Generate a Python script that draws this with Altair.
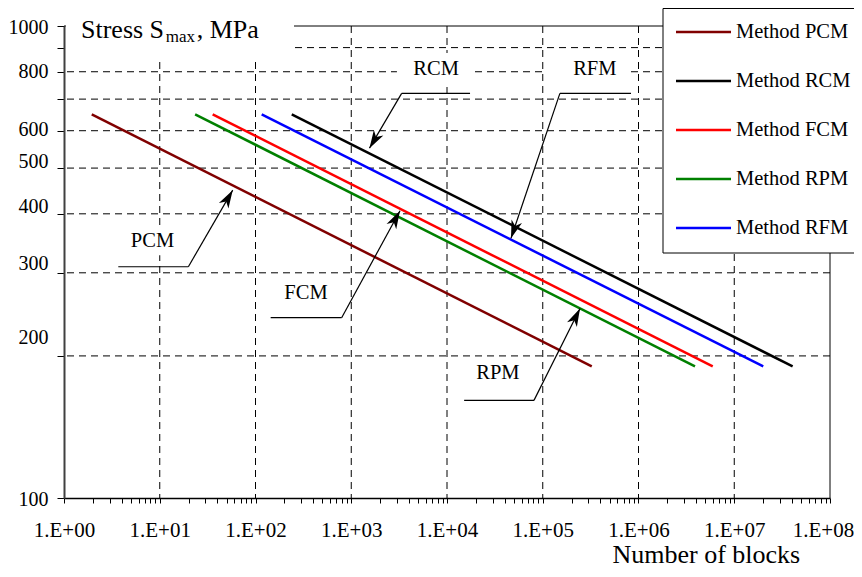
import altair as alt
import pandas as pd

FONT = "Liberation Serif"

# ---- series data ----
methods = ["Method PCM", "Method RCM", "Method FCM", "Method RPM", "Method RFM"]
colors = ["#800000", "#000000", "#FF0000", "#008000", "#0000FF"]
n_start = [1.95, 239, 35.7, 23.4, 116]
n_end = [3.25e5, 4.07e7, 5.96e6, 3.89e6, 2.01e7]
s_start = [650, 650, 650, 650, 650]
s_end = [190, 190, 190, 190, 190]

# ---- axis ticks / labels ----
y_ticks = [100, 200, 300, 400, 500, 600, 700, 800, 900, 1000]
y_labels = [100, 200, 300, 400, 500, 600, 800, 1000]
y_label_shift = [1, -18, -9, -7.3, -6.7, -1.7, 0, 1]
x_decades = [1, 10, 100, 1e3, 1e4, 1e5, 1e6, 1e7, 1e8]
x_ticks = [m * d for d in x_decades[:-1] for m in range(1, 10)] + [1e8]
grid_x = [10, 100, 1e3, 1e4, 1e5, 1e6, 1e7]
grid_y = [200, 300, 400, 500, 600, 700, 800, 900]

# ---- callout annotations ----
ann_labels = ["RCM", "RFM", "PCM", "FCM", "RPM"]
ann_text_n = [7.7e3, 3.5e5, 8.4, 337, 3.4e4]
ann_text_s = [810, 810, 351, 272, 184]
ann_elbow_n = [3.36e3, 1.51e5, 19.9, 794, 8.1e4]
ann_shelf_n = [1.74e4, 8.35e5, 3.69, 144, 1.51e4]
ann_shelf_s = [720, 720, 309, 241, 161]
ann_tip_n = [1.55e3, 4.66e4, 57.8, 3.23e3, 2.45e5]
ann_tip_s = [551, 355, 449, 406, 252]
ann_angle = [210.5, 198.7, 30.1, 28.6, 26.6]
# white boxes behind some labels
box_x1 = [3.0e3, 1.055e5, 4.66]
box_x2 = [1.82e4, 8.15e5, 15.5]
box_y1 = [743, 743, 327]
box_y2 = [877, 877, 373]

title_parts = ["Stress S", "max", ", MPa"]
x_title = "Number of blocks"

# ---- tables ----
lines_df = pd.DataFrame({"method": methods * 2, "N": n_start + n_end, "S": s_start + s_end})
legend_df = pd.DataFrame({"method": methods})
ann_df = pd.DataFrame({
    "label": ann_labels, "tn": ann_text_n, "ts": ann_text_s,
    "en": ann_elbow_n, "hn": ann_shelf_n, "hs": ann_shelf_s,
    "pn": ann_tip_n, "ps": ann_tip_s, "angle": ann_angle,
})
box_df = pd.DataFrame({"x1": box_x1, "x2": box_x2, "y1": box_y1, "y2": box_y2})
gx_df = pd.DataFrame({"g": grid_x})
gy_df = pd.DataFrame({"g": grid_y})
frame_top = pd.DataFrame({"v": [1000]})
frame_right = pd.DataFrame({"v": [1e8]})
one = pd.DataFrame({"a": [0]})

x_scale = alt.Scale(type="log", domain=[1, 1e8], nice=False)
y_scale = alt.Scale(type="log", domain=[100, 1000], nice=False)
color_scale = alt.Scale(domain=methods, range=colors)

x_label_expr = (
    "abs(log(datum.value)/LN10 - round(log(datum.value)/LN10)) < 0.001 ? "
    "'1.E+0' + round(log(datum.value)/LN10) : ''"
)
y_label_expr = (
    "indexof([" + ",".join(str(v) for v in y_labels) + "], datum.value) >= 0 ? "
    "format(datum.value, 'd') : ''"
)
y_offset_cond = {
    "condition": [
        {"test": f"datum.value == {v}", "value": off}
        for v, off in zip(y_labels, y_label_shift)
    ],
    "value": 0,
}
x_offset_cond = {
    "condition": {"test": "datum.value >= 99999999", "value": -7},
    "value": 0,
}

x_axis = alt.Axis(
    values=x_ticks, labelExpr=x_label_expr, grid=False,
    tickSize=5, tickColor="black", tickWidth=1,
    domainColor="black", domainWidth=1.5,
    labelFont=FONT, labelFontSize=21, labelColor="black",
    labelPadding=33, labelBaseline="alphabetic", labelAlign="center",
    labelOverlap=False, labelFlush=False, labelBound=False,
    labelOffset=x_offset_cond,
    title=x_title, titleFont=FONT, titleFontSize=26, titleFontWeight="normal",
    titleColor="black", titleX=548, titleY=64, titleAlign="left",
    titleBaseline="alphabetic", titleAnchor="start",
)
y_axis = alt.Axis(
    values=y_ticks, labelExpr=y_label_expr, grid=False,
    tickSize=7, tickColor="black", tickWidth=1,
    domainColor="#404040", domainWidth=2,
    labelFont=FONT, labelFontSize=20, labelColor="black",
    labelPadding=9, labelBaseline="middle", labelOverlap=False,
    labelFlush=False, labelBound=False, labelOffset=y_offset_cond,
    title=None,
)


def X(field, axis=True):
    return alt.X(field, type="quantitative", scale=x_scale, axis=x_axis if axis else None)


def Y(field, axis=False):
    return alt.Y(field, type="quantitative", scale=y_scale, axis=y_axis if axis else None)


grid_v = alt.Chart(gx_df).mark_rule(color="black", strokeWidth=1, strokeDash=[7, 5]).encode(x=X("g"))
grid_h = alt.Chart(gy_df).mark_rule(color="black", strokeWidth=1, strokeDash=[7, 5]).encode(y=Y("g"))
top_line = alt.Chart(frame_top).mark_rule(color="black", strokeWidth=1).encode(y=Y("v"))
right_line = alt.Chart(frame_right).mark_rule(color="black", strokeWidth=1).encode(x=X("v"))

boxes = alt.Chart(box_df).mark_rect(fill="white", stroke=None).encode(
    x=X("x1"), x2="x2", y=Y("y1"), y2="y2"
)
ann_text = alt.Chart(ann_df).mark_text(
    font=FONT, fontSize=20.5, color="black", align="center", baseline="middle"
).encode(x=X("tn"), y=Y("ts"), text="label:N")

data_lines = alt.Chart(lines_df).mark_line(strokeWidth=2.5).encode(
    x=X("N"), y=Y("S", axis=True),
    color=alt.Color("method:N", scale=color_scale, legend=None),
)

shelf = alt.Chart(ann_df).mark_rule(color="black", strokeWidth=1.2).encode(
    x=X("en"), x2="hn", y=Y("hs"), y2="hs"
)
diag = alt.Chart(ann_df).mark_rule(color="black", strokeWidth=1.2).encode(
    x=X("en"), x2="pn", y=Y("hs"), y2="ps"
)
arrow_path = "M0,0 L5.5,18 L0,13 L-5.5,18 Z"
heads = alt.Chart(ann_df).mark_point(
    shape=arrow_path, filled=True, color="black", opacity=1, size=4, strokeWidth=0
).encode(x=X("pn"), y=Y("ps"), angle=alt.Angle("angle:Q", scale=None))

# title in the top-left corner of the plot
title_box = alt.Chart(one).mark_rect(fill="white").encode(
    x=alt.value(2), x2=alt.value(230), y=alt.value(-18), y2=alt.value(33)
)
t1 = alt.Chart(one).mark_text(font=FONT, fontSize=26, color="black", align="left",
                              baseline="alphabetic", text=title_parts[0]).encode(
    x=alt.value(17), y=alt.value(12.3))
t2 = alt.Chart(one).mark_text(font=FONT, fontSize=17, color="black", align="left",
                              baseline="alphabetic", text=title_parts[1]).encode(
    x=alt.value(101.7), y=alt.value(16.3))
t3 = alt.Chart(one).mark_text(font=FONT, fontSize=26, color="black", align="left",
                              baseline="alphabetic", text=title_parts[2]).encode(
    x=alt.value(132.7), y=alt.value(12.3))

# legend drawn as marks
leg_y = alt.Y("method:N", sort=methods,
              scale=alt.Scale(type="point", range=[6, 202], padding=0), axis=None)
leg_box = alt.Chart(one).mark_rect(fill="white", stroke="black", strokeWidth=1).encode(
    x=alt.value(599), x2=alt.value(830), y=alt.value(-17.5), y2=alt.value(227)
)
leg_lines = alt.Chart(legend_df).mark_rule(strokeWidth=2.5).encode(
    x=alt.value(612), x2=alt.value(667), y=leg_y,
    color=alt.Color("method:N", scale=color_scale, legend=None),
)
leg_text = alt.Chart(legend_df).mark_text(
    font=FONT, fontSize=20.5, color="black", align="left", baseline="middle"
).encode(x=alt.value(672), y=leg_y, text="method:N")

chart = alt.layer(
    grid_v, grid_h, top_line, right_line, boxes, ann_text, data_lines,
    shelf, diag, heads, title_box, t1, t2, t3, leg_box, leg_lines, leg_text,
).resolve_scale(y="independent").properties(
    width=766, height=472,
    autosize=alt.AutoSizeParams(type="none"),
    padding={"left": 56, "top": 18, "right": 24, "bottom": 71},
    background="white",
).configure_view(stroke=None)

chart.save("out.html", embed_options={"renderer": "svg", "actions": False})
